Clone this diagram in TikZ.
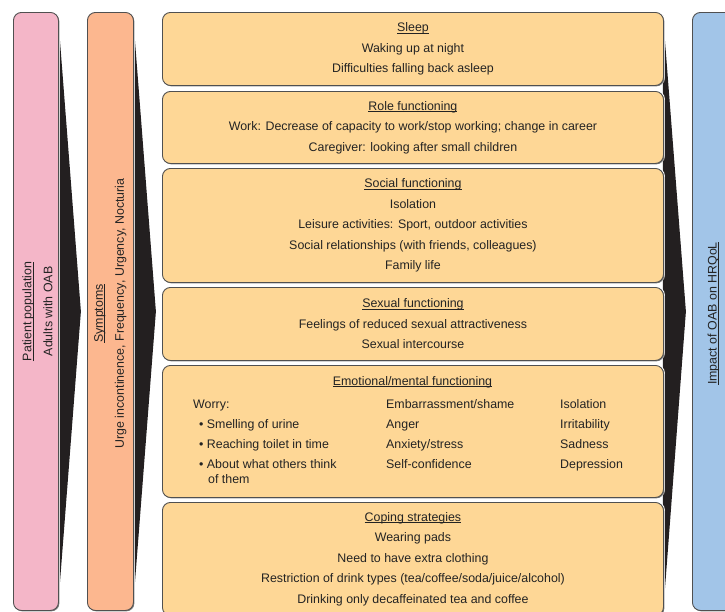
\documentclass[tikz,border=0pt]{standalone}
\usepackage{fontspec}
\setmainfont{Liberation Sans}
\usetikzlibrary{shadows,calc}
\pgfdeclarelayer{background}
\pgfsetlayers{background,main}
\definecolor{pinkc}{RGB}{244,182,200}
\definecolor{salmonc}{RGB}{252,183,143}
\definecolor{yellowc}{RGB}{254,215,150}
\definecolor{bluec}{RGB}{162,197,232}
\definecolor{arrowc}{RGB}{35,31,32}
\definecolor{edgec}{RGB}{80,80,80}
\definecolor{txtc}{RGB}{35,35,35}
\newsavebox{\hdbox}
\newcommand{\hd}[1]{\sbox{\hdbox}{#1}\rlap{\rule[-1.9pt]{\wd\hdbox}{0.6pt}}\usebox{\hdbox}}
\begin{document}
\begin{tikzpicture}[x=1pt,y=-1pt,
  colbox/.style={draw=edgec, line width=0.9pt, rounded corners=8pt,
    preaction={draw=white, line width=3pt},
    drop shadow={shadow xshift=0.9pt, shadow yshift=-0.9pt, fill=black!70, opacity=0.7},
    anchor=north west, inner sep=0pt, text=txtc, align=center,
    font=\fontsize{12.4}{20.5}\selectfont},
  rottext/.style={rotate=90, align=center, text=txtc, inner sep=0pt,
    font=\fontsize{12.4}{21}\selectfont},
  emtext/.style={anchor=base west, inner sep=0pt, text=txtc,
    font=\fontsize{12.4}{15}\selectfont},
  arrowshape/.style={fill=arrowc}
]
\useasboundingbox (0,0) rectangle (725,611);
\clip (0,0) rectangle (725,611);

% side columns
\node[colbox, fill=pinkc, minimum width=45pt, minimum height=598pt] (pat) at (13,12) {};
\node[colbox, fill=salmonc, minimum width=46pt, minimum height=598pt] (sym) at (87,12) {};
\node[colbox, fill=bluec, minimum width=42pt, minimum height=598pt] (imp) at (692,12) {};

\node[rottext] (pattxt) at ($(pat.center)+(1.5,0)$) {\hd{Patient population}\\Adults with OAB};
\node[rottext] (symtxt) at ($(sym.center)+(0,2)$) {\hd{Symptoms}\\Urge incontinence, Frequency, Urgency, Nocturia};
\node[rottext] (imptxt) at ($(imp.center)+(0,2)$) {\hd{Impact of OAB on HRQoL}};

% middle boxes
\node[colbox, fill=yellowc, minimum width=501pt, minimum height=73pt] (sleep) at (162,12)
  {\hd{Sleep}\\Waking up at night\\Difficulties falling back asleep};
\node[colbox, fill=yellowc, minimum width=501pt, minimum height=72pt] (role) at (162,91)
  {\hd{Role functioning}\\Work: Decrease of capacity to work/stop working; change in career\\Caregiver: looking after small children};
\node[colbox, fill=yellowc, minimum width=501pt, minimum height=114pt] (social) at (162,168)
  {\hd{Social functioning}\\Isolation\\Leisure activities: Sport, outdoor activities\\Social relationships (with friends, colleagues)\\Family life};
\node[colbox, fill=yellowc, minimum width=501pt, minimum height=73pt] (sexual) at (162,287)
  {\hd{Sexual functioning}\\Feelings of reduced sexual attractiveness\\Sexual intercourse};
\node[colbox, fill=yellowc, minimum width=501pt, minimum height=132pt] (emot) at (162,365) {};
\node[colbox, fill=yellowc, minimum width=501pt, minimum height=113pt] (coping) at (162,502)
  {\hd{Coping strategies}\\Wearing pads\\Need to have extra clothing\\Restriction of drink types (tea/coffee/soda/juice/alcohol)\\Drinking only decaffeinated tea and coffee};

% emotional box contents
\node[emtext, anchor=base] (emh) at (412.5,385) {\hd{Emotional/mental functioning}};
\node[emtext] (w0) at (193,408) {Worry:};
\node[emtext] (w1) at (199,428) {\textbullet\ Smelling of urine};
\node[emtext] (w2) at (199,448) {\textbullet\ Reaching toilet in time};
\node[emtext] (w3) at (199,468) {\textbullet\ About what others think};
\node[emtext] (w4) at (208,483) {of them};
\node[emtext] (b1) at (386,408) {Embarrassment/shame};
\node[emtext] (b2) at (386,428) {Anger};
\node[emtext] (b3) at (386,448) {Anxiety/stress};
\node[emtext] (b4) at (386,468) {Self-confidence};
\node[emtext] (c1) at (560,408) {Isolation};
\node[emtext] (c2) at (560,428) {Irritability};
\node[emtext] (c3) at (560,448) {Sadness};
\node[emtext] (c4) at (560,468) {Depression};

% black arrow shapes behind the columns
\begin{pgfonlayer}{background}
\fill[arrowshape] ($(pat.north east)+(-1,2)$) -- ($(pat.east)+(22,0)$) -- ($(pat.south east)+(-1,-2)$) -- cycle;
\fill[arrowshape] ($(sym.north east)+(-1,2)$) -- ($(sym.east)+(22,0)$) -- ($(sym.south east)+(-1,-2)$) -- cycle;
\fill[arrowshape] ($(sleep.north east)+(-1,2)$) -- ($(sleep.north east |- pat.east)+(22,0)$) -- ($(coping.south east)+(-1,0)$) -- cycle;
\end{pgfonlayer}
\end{tikzpicture}
\end{document}
